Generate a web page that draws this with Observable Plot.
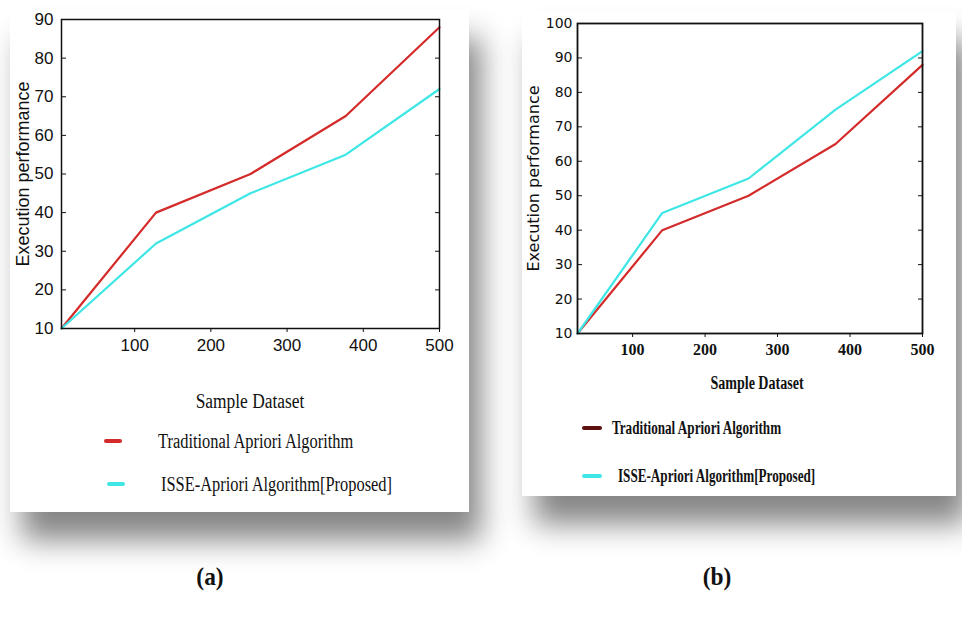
<!DOCTYPE html>
<html><head><meta charset="utf-8">
<script src="https://cdn.jsdelivr.net/npm/d3@7"></script>
<script src="https://cdn.jsdelivr.net/npm/@observablehq/plot@0.6"></script>
<style>
html,body{margin:0;padding:0;background:#fff}
body{width:962px;height:619px;position:relative;overflow:hidden}
.card{position:absolute;background:#fff;box-shadow:12px 28px 28px rgba(0,0,0,0.48)}
.card svg{position:absolute;left:0;top:0;overflow:visible}
.t{position:absolute;white-space:nowrap;font-family:"Liberation Serif",serif;line-height:1;color:#111}
.dash{position:absolute;height:4px;border-radius:2px}
</style>
</head><body>
<div class="card" id="cardA" style="left:10px;top:10px;width:459px;height:502px"></div>
<div class="card" id="cardB" style="left:522px;top:11px;width:434px;height:485px"></div>
<div id="overlay"></div>
<script>
// ---- data ----
const seriesNames = ["Traditional Apriori Algorithm", "ISSE-Apriori Algorithm[Proposed]"];
const xA = [4, 128, 252, 377, 500];
const tradA = [10, 40, 50, 65, 88];
const isseA = [10, 32, 45, 55, 72];
const xB = [24, 141, 260, 380, 500];
const tradB = [10, 40, 50, 65, 88];
const isseB = [10, 45, 55, 75, 92];
const xTicks = [100, 200, 300, 400, 500];
const yTicksA = [10, 20, 30, 40, 50, 60, 70, 80, 90];
const yTicksB = [10, 20, 30, 40, 50, 60, 70, 80, 90, 100];
const yLabel = "Execution performance";
const xLabel = "Sample Dataset";
const panelLabels = ["(a)", "(b)"];

const colorsA = ["#d42a2a", "#3ee6e6"];
const colorsB = ["#d42a2a", "#3ee6e6"];
const legendColorsB = ["#5c1010", "#3ee6e6"];

function rows(xs, a, b) {
  return xs.map((x, i) => ({x, v: a[i], s: seriesNames[0]}))
    .concat(xs.map((x, i) => ({x, v: b[i], s: seriesNames[1]})));
}

const plotA = Plot.plot({
  width: 459, height: 360,
  marginLeft: 51, marginRight: 30, marginTop: 9, marginBottom: 42,
  style: {fontFamily: "Liberation Sans", fontSize: "17px", color: "#111", background: "transparent", overflow: "visible"},
  x: {domain: [4, 500]},
  y: {domain: [10, 90]},
  color: {domain: seriesNames, range: colorsA},
  marks: [
    Plot.axisY({ticks: yTicksA, tickSize: -5, tickPadding: 13, label: null, fontSize: 17}),
    Plot.axisY({anchor: "right", ticks: yTicksA, tickSize: -5, fill: "none", label: null}),
    Plot.axisX({ticks: xTicks, tickSize: 4, tickPadding: 6, label: null, fontSize: 17}),
    Plot.text([yLabel], {text: d => d, frameAnchor: "left", textAnchor: "middle", lineAnchor: "middle", rotate: -90, dx: -38, fontSize: 18}),
    Plot.line(rows(xA, tradA, isseA), {x: "x", y: "v", z: "s", stroke: "s", strokeWidth: 2.2}),
    Plot.frame({stroke: "#111", strokeWidth: 1.5})
  ]
});
document.getElementById("cardA").appendChild(plotA);

const plotB = Plot.plot({
  width: 434, height: 360,
  marginLeft: 55, marginRight: 34, marginTop: 12, marginBottom: 38,
  style: {fontFamily: "DejaVu Sans", fontSize: "14px", color: "#111", background: "transparent", overflow: "visible"},
  x: {domain: [24, 500]},
  y: {domain: [10, 100]},
  color: {domain: seriesNames, range: colorsB},
  marks: [
    Plot.axisY({ticks: yTicksB, tickSize: -5, tickPadding: 10, label: null, fontSize: 14}),
    Plot.axisY({anchor: "right", ticks: yTicksB, tickSize: -5, fill: "none", label: null}),
    Plot.axisX({ticks: xTicks, tickSize: 4, tickPadding: 6, label: null, fontSize: 16, fontFamily: "Liberation Serif", fontWeight: "bold"}),
    Plot.text([yLabel], {text: d => d, frameAnchor: "left", textAnchor: "middle", lineAnchor: "middle", rotate: -90, dx: -44, fontSize: 16}),
    Plot.line(rows(xB, tradB, isseB), {x: "x", y: "v", z: "s", stroke: "s", strokeWidth: 2.2}),
    Plot.frame({stroke: "#111", strokeWidth: 1.8})
  ]
});
document.getElementById("cardB").appendChild(plotB);

// ---- legends & captions (HTML text) ----
const ov = document.getElementById("overlay");
function txt(s, x, y, size, opts = {}) {
  const d = document.createElement("div");
  d.className = "t";
  d.textContent = s;
  d.style.left = x + "px";
  d.style.top = y + "px";
  d.style.fontSize = size + "px";
  if (opts.bold) d.style.fontWeight = "bold";
  const sx = opts.sx || 1;
  const tx = opts.center ? "-50%" : "0";
  d.style.transformOrigin = opts.center ? "center center" : "left center";
  d.style.transform = `translate(${tx},-50%) scaleX(${sx})`;
  ov.appendChild(d);
}
function dash(color, x, y, w) {
  const d = document.createElement("div");
  d.className = "dash";
  d.style.background = color;
  d.style.left = x + "px";
  d.style.top = (y - 2) + "px";
  d.style.width = w + "px";
  ov.appendChild(d);
}
// panel (a)
txt(xLabel, 250, 401, 20, {center: true, sx: 0.87});
dash(colorsA[0], 104, 441, 18);
txt(seriesNames[0], 158, 441, 20, {sx: 0.82});
dash(colorsA[1], 107, 484, 18);
txt(seriesNames[1], 161, 484, 20, {sx: 0.82});
// panel (b)
txt(xLabel, 757, 383, 18, {center: true, bold: true, sx: 0.78});
dash(legendColorsB[0], 582, 428, 20);
txt(seriesNames[0], 612, 428, 18, {bold: true, sx: 0.73});
dash(legendColorsB[1], 582, 476, 20);
txt(seriesNames[1], 618, 476, 18, {bold: true, sx: 0.73});
// captions
txt(panelLabels[0], 210, 577, 26, {center: true, bold: true, sx: 0.9});
txt(panelLabels[1], 717, 577, 26, {center: true, bold: true, sx: 0.9});
</script>
</body></html>
